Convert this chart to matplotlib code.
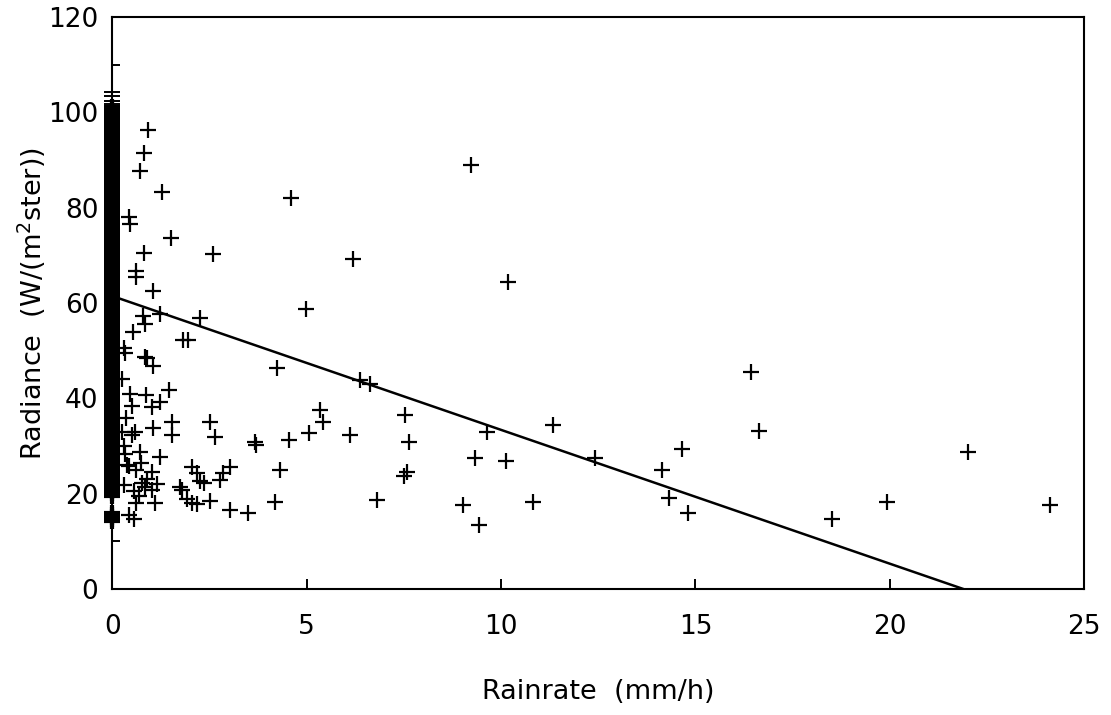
import matplotlib
matplotlib.use('Agg')
import matplotlib.pyplot as plt
from matplotlib.ticker import MultipleLocator

# rainrate (mm/h) and radiance (W/(m^2 ster)) for the raining pixels
rain = [0.92, 0.82, 0.72, 1.29, 4.59, 0.42, 0.45, 1.51, 0.81, 2.60,
        6.18, 0.61, 0.60, 1.06, 4.98, 1.23, 0.79, 0.85, 2.26, 0.53,
        1.82, 1.95, 0.85, 0.33, 4.23, 0.90, 1.05, 6.38, 6.63, 1.47,
        0.87, 1.23, 1.02, 0.46, 0.50, 5.35, 5.43, 1.53, 1.53, 2.52,
        2.65, 1.06, 0.59, 0.50, 3.68, 3.70, 4.55, 5.05, 6.12, 0.72,
        1.23, 0.42, 2.05, 2.18, 2.26, 2.35, 3.03, 2.86, 2.78, 4.32,
        1.02, 0.90, 0.77, 1.75, 1.80, 1.92, 2.05, 2.18, 2.52, 3.03,
        3.50, 4.19, 6.80, 1.02, 1.10, 0.60, 0.55, 0.42, 0.30, 0.37,
        0.33, 9.22, 10.17, 16.44, 7.53, 7.63, 7.58, 7.50, 9.63, 11.33,
        9.33, 10.13, 12.42, 16.63, 14.65, 14.13, 14.33, 14.82, 9.03, 9.42,
        10.81, 22.01, 19.93, 18.50, 24.11, 0.30, 0.25, 0.35, 0.30, 0.25,
        0.55, 0.70, 0.60, 0.75, 0.85, 1.15]
radiance = [96.3, 91.6, 87.7, 83.3, 82.1, 78.1, 76.6, 73.7, 70.6, 70.4,
            69.2, 66.8, 65.4, 62.5, 58.7, 57.8, 57.3, 55.7, 56.8, 54.0,
            52.2, 52.2, 48.7, 49.5, 46.3, 48.5, 46.8, 43.8, 43.1, 41.7,
            40.7, 39.3, 38.3, 41.0, 38.4, 37.5, 35.1, 35.1, 32.3, 35.1,
            31.9, 33.9, 33.0, 32.3, 30.9, 30.3, 31.3, 32.7, 32.3, 28.8,
            27.8, 25.9, 25.7, 24.3, 22.6, 22.3, 25.7, 24.3, 22.9, 25.0,
            24.6, 23.2, 22.3, 21.5, 20.8, 19.0, 18.0, 17.9, 18.5, 16.6,
            15.9, 18.3, 18.7, 20.8, 18.0, 18.0, 14.8, 15.5, 21.8, 26.0,
            28.3, 88.9, 64.5, 45.5, 36.5, 30.9, 24.6, 23.7, 33.0, 34.4,
            27.6, 26.9, 27.6, 33.1, 29.3, 25.1, 19.2, 16.0, 17.6, 13.4,
            18.3, 28.7, 18.2, 14.7, 17.6, 50.5, 44.0, 36.0, 30.0, 33.0,
            20.5, 19.5, 25.0, 26.5, 21.5, 22.0]

# radiances of the non-raining pixels (rainrate = 0), stacked on the y axis
zero_radiance = [14.3, 14.7, 15.1, 15.5, 15.9,
                 19.6, 20.1, 20.6, 21.1, 21.6, 22.1, 22.6, 23.1, 23.6, 24.1,
                 24.6, 25.1, 25.6, 26.1, 26.6, 27.1, 27.6, 28.1, 28.6, 29.1,
                 29.6, 30.1, 30.6, 31.1, 31.6, 32.1, 32.6, 33.1, 33.6, 34.1,
                 34.6, 35.1, 35.6, 36.1, 36.6, 37.1, 37.6, 38.1, 38.6, 39.1,
                 39.6, 40.1, 40.6, 41.1, 41.6, 42.1, 42.6, 43.1, 43.6, 44.1,
                 44.6, 45.1, 45.6, 46.1, 46.6, 47.1, 47.6, 48.1, 48.6, 49.1,
                 49.6, 50.1, 50.6, 51.1, 51.6, 52.1, 52.6, 53.1, 53.6, 54.1,
                 54.6, 55.1, 55.6, 56.1, 56.6, 57.1, 57.6, 58.1, 58.6, 59.1,
                 59.6, 60.1, 60.6, 61.1, 61.6, 62.1, 62.6, 63.1, 63.6, 64.1,
                 64.6, 65.1, 65.6, 66.1, 66.6, 67.1, 67.6, 68.1, 68.6, 69.1,
                 69.6, 70.1, 70.6, 71.1, 71.6, 72.1, 72.6, 73.1, 73.6, 74.1,
                 74.6, 75.1, 75.6, 76.1, 76.6, 77.1, 77.6, 78.1, 78.6, 79.1,
                 79.6, 80.1, 80.6, 81.1, 81.6, 82.1, 82.6, 83.1, 83.6, 84.1,
                 84.6, 85.1, 85.6, 86.1, 86.6, 87.1, 87.6, 88.1, 88.6, 89.1,
                 89.6, 90.1, 90.6, 91.1, 91.6, 92.1, 92.6, 93.1, 93.6, 94.1,
                 94.6, 95.1, 95.6, 96.1, 96.6, 97.1, 97.6, 98.1, 98.6, 99.1,
                 99.6, 100.1, 100.6, 101.1]
# a few separate highest ones above the solid stack
zero_top = [101.8, 102.5, 103.4, 104.2]

# regression line
fit_x = [0.0, 21.9]
fit_y = [61.5, 0.0]

plt.rcParams['font.family'] = ['DejaVu Sans']

fig = plt.figure(figsize=(11.11, 7.15), dpi=100)
ax = fig.add_axes([0.101, 0.176, 0.875, 0.800])

ax.plot([0.0] * len(zero_radiance), zero_radiance, '+', color='black',
        markersize=11, markeredgewidth=3.0, clip_on=False, zorder=3)
ax.plot([0.0] * len(zero_top), zero_top, '+', color='black',
        markersize=11, markeredgewidth=1.4, clip_on=False, zorder=3)
ax.plot(rain, radiance, '+', color='black', markersize=11.5,
        markeredgewidth=1.6, clip_on=False, zorder=3)
ax.plot(fit_x, fit_y, color='black', linewidth=1.8, zorder=2)

ax.set_xlim(0, 25)
ax.set_ylim(0, 120)

ax.xaxis.set_major_locator(MultipleLocator(5))
ax.yaxis.set_major_locator(MultipleLocator(20))
ax.yaxis.set_minor_locator(MultipleLocator(10))

ax.tick_params(axis='both', which='both', direction='in', width=1.4,
               labelsize=19, top=False, right=False)
ax.tick_params(axis='x', which='major', length=7, pad=18)
ax.tick_params(axis='y', which='major', length=6, pad=10)
ax.tick_params(axis='y', which='minor', length=6)

for s in ax.spines.values():
    s.set_linewidth(1.5)

ax.set_xlabel('Rainrate  (mm/h)', fontsize=19.5, labelpad=28)
ax.set_ylabel('Radiance  (W/(m$^2$ster))', fontsize=19.5, labelpad=0)

plt.savefig('out.png', dpi=100)
